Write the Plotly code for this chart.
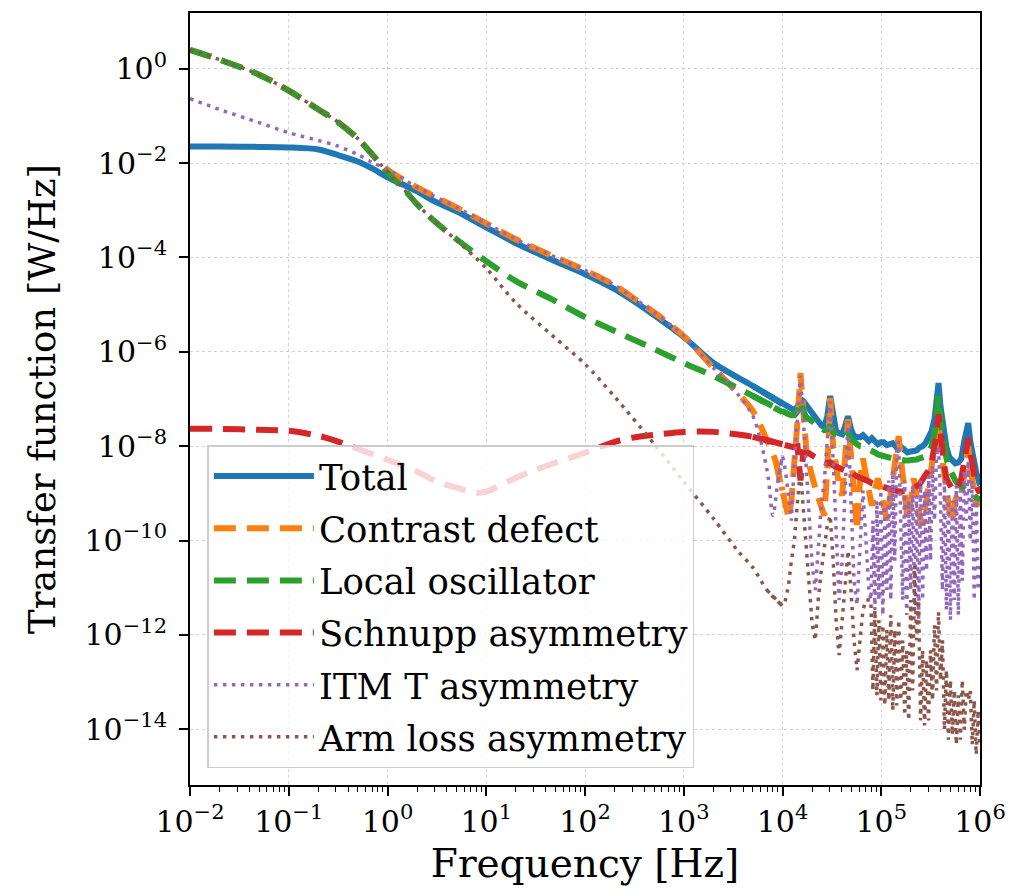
import plotly.graph_objects as go

# ---------------- data ----------------
# high-frequency grid shared by the curves above 10 kHz
freq_hf = [1.00e4, 1.07e4, 1.15e4, 1.23e4, 1.32e4, 1.42e4, 1.52e4, 1.63e4, 1.74e4, 1.87e4,
           2.00e4, 2.15e4, 2.30e4, 2.47e4, 2.65e4, 2.84e4, 3.04e4, 3.26e4, 3.49e4, 3.74e4,
           4.02e4, 4.30e4, 4.61e4, 4.94e4, 5.30e4, 5.69e4, 6.10e4, 6.53e4, 7.00e4, 7.50e4,
           8.04e4, 8.63e4, 9.25e4, 9.91e4, 1.06e5, 1.14e5, 1.22e5, 1.31e5, 1.40e5, 1.50e5,
           1.61e5, 1.73e5, 1.85e5, 1.99e5, 2.13e5, 2.28e5, 2.44e5, 2.62e5, 2.81e5, 3.01e5,
           3.23e5, 3.46e5, 3.62e5, 3.80e5, 3.98e5, 4.27e5, 4.57e5, 4.90e5, 5.25e5, 5.62e5,
           6.04e5, 6.47e5, 6.93e5, 7.26e5, 7.60e5, 7.96e5, 8.55e5, 9.16e5, 1.00e6]

# denser grid used by the two fast-oscillating asymmetry curves above ~78 kHz
freq_dense = [7.86e4, 8.23e4, 8.62e4, 9.03e4, 9.46e4, 9.91e4, 1.038e5, 1.087e5, 1.138e5, 1.192e5,
              1.249e5, 1.308e5, 1.370e5, 1.435e5, 1.503e5, 1.575e5, 1.649e5, 1.728e5, 1.809e5, 1.896e5,
              1.986e5, 2.080e5, 2.178e5, 2.281e5, 2.390e5, 2.503e5, 2.622e5, 2.746e5, 2.876e5, 3.013e5,
              3.155e5, 3.305e5, 3.462e5, 3.626e5, 3.798e5, 3.978e5, 4.166e5, 4.364e5, 4.571e5, 4.788e5,
              5.015e5, 5.253e5, 5.502e5, 5.763e5, 6.036e5, 6.322e5, 6.622e5, 6.936e5, 7.265e5, 7.609e5,
              7.970e5, 8.348e5, 8.744e5, 9.159e5, 9.592e5, 1.0e6]

# Total
total_freq_low = [1e-2, 2e-2, 5e-2, 1e-1, 2e-1, 3e-1, 5e-1, 7e-1, 1, 2, 3, 5, 10, 20, 50, 100, 200, 300,
                  500, 1e3, 2e3, 5e3]
total_low = [2.24e-2, 2.24e-2, 2.2e-2, 2.14e-2, 1.94e-2, 1.52e-2, 1.08e-2, 7.7e-3, 4.99e-3, 2.51e-3,
             1.54e-3, 9.5e-4, 4.35e-4, 2.0e-4, 8.3e-5, 4.41e-5, 2.13e-5, 1.25e-5, 6.0e-6, 2.06e-6,
             5.8e-7, 1.89e-7]
total_hf = [7.73e-8, 7.01e-8, 6.36e-8, 6.06e-8, 5.77e-8, 7.01e-8, 1.0e-7, 8.94e-8, 7.36e-8, 6.06e-8,
            4.99e-8, 4.11e-8, 3.38e-8, 2.78e-8, 2.52e-8, 4.31e-8, 1.16e-7, 3.73e-8, 2.07e-8, 1.88e-8,
            1.79e-8, 2.65e-8, 4.31e-8, 2.29e-8, 1.63e-8, 1.55e-8, 1.55e-8, 1.71e-8, 1.41e-8, 1.28e-8,
            1.48e-8, 1.28e-8, 1.10e-8, 1.21e-8, 1.21e-8, 1.05e-8, 1.10e-8, 1.16e-8, 9.86e-9, 8.52e-9,
            9.39e-9, 8.11e-9, 7.36e-9, 7.73e-9, 8.11e-9, 8.11e-9, 9.39e-9, 1.0e-8, 1.16e-8, 1.48e-8,
            2.07e-8, 3.73e-8, 7.01e-8, 2.18e-7, 7.01e-8, 2.29e-8, 9.39e-9, 5.77e-9, 4.75e-9, 4.31e-9,
            4.53e-9, 5.50e-9, 1.28e-8, 2.29e-8, 3.07e-8, 1.28e-8, 4.99e-9, 2.78e-9, 1.48e-9]

# Contrast defect
contrast_freq_low = [1e-2, 2e-2, 5e-2, 1e-1, 2e-1, 3e-1, 5e-1, 7e-1, 1, 2, 5, 10, 20, 50, 100, 200, 300,
                     500, 1e3, 2e3, 3e3, 5e3, 7e3, 8.5e3]
contrast_low = [2.52, 1.55, 0.747, 0.343, 0.136, 7.96e-2, 3.31e-2, 1.52e-2, 7.3e-3, 3.05e-3, 1.15e-3,
                5.28e-4, 2.43e-4, 1.01e-4, 5.36e-5, 2.58e-5, 1.44e-5, 6.9e-6, 2.16e-6, 4.55e-7, 1.89e-7,
                5.6e-8, 1.3e-8, 4.9e-9]
contrast_hf = [1.16e-9, 5.50e-10, 3.07e-10, 7.01e-10, 3.91e-9, 3.38e-8, 3.55e-7, 3.38e-8, 8.94e-9, 3.91e-9,
               2.07e-9, 1.28e-9, 8.11e-10, 5.50e-10, 3.38e-10, 3.07e-9, 1.05e-7, 1.0e-8, 3.07e-9, 1.48e-9,
               8.94e-10, 4.99e-9, 3.73e-8, 6.36e-9, 1.16e-9, 1.63e-10, 1.88e-9, 5.50e-9, 2.40e-9, 1.05e-9,
               5.50e-10, 1.16e-9, 2.07e-9, 1.16e-9, 5.50e-10, 2.65e-10, 7.01e-10, 2.07e-9, 6.36e-9, 1.63e-8,
               3.91e-9, 8.94e-10, 2.65e-10, 7.01e-10, 2.07e-9, 8.94e-10, 3.38e-10, 2.07e-10, 5.50e-10, 1.48e-9,
               3.07e-9, 6.36e-9, 1.28e-8, 3.38e-8, 1.0e-8, 3.07e-9, 1.16e-9, 4.31e-10, 2.40e-10, 7.01e-10,
               1.16e-9, 1.05e-9, 2.40e-9, 4.99e-9, 1.0e-8, 3.91e-9, 1.16e-9, 5.50e-10, 7.01e-10]

# Local oscillator
lo_freq_low = [1e-2, 2e-2, 5e-2, 1e-1, 2e-1, 3e-1, 5e-1, 7e-1, 1, 1.5, 2, 3, 5, 10, 20, 50, 100, 200,
               500, 1e3, 2e3, 5e3]
lo_low = [2.52, 1.55, 0.747, 0.343, 0.136, 7.96e-2, 3.31e-2, 1.52e-2, 6.33e-3, 2.64e-3, 1.33e-3, 5.82e-4,
          2.43e-4, 8.3e-5, 3.14e-5, 1.19e-5, 5.44e-6, 2.75e-6, 1.15e-6, 5.8e-7, 3.08e-7, 1.16e-7]
lo_hf = [5.24e-8, 4.99e-8, 4.75e-8, 4.53e-8, 4.53e-8, 5.50e-8, 8.94e-8, 5.50e-8, 4.11e-8, 3.73e-8,
         3.38e-8, 3.07e-8, 2.65e-8, 2.40e-8, 2.18e-8, 2.29e-8, 2.78e-8, 1.98e-8, 1.71e-8, 1.55e-8,
         1.48e-8, 1.63e-8, 1.88e-8, 1.41e-8, 1.21e-8, 1.10e-8, 1.0e-8, 9.86e-9, 8.94e-9, 8.52e-9,
         8.11e-9, 7.36e-9, 6.68e-9, 6.36e-9, 6.06e-9, 5.77e-9, 5.50e-9, 5.50e-9, 5.24e-9, 5.24e-9,
         4.99e-9, 4.99e-9, 4.99e-9, 4.99e-9, 5.24e-9, 5.24e-9, 5.50e-9, 5.77e-9, 6.06e-9, 7.36e-9,
         9.86e-9, 1.88e-8, 3.73e-8, 1.16e-7, 3.38e-8, 1.0e-8, 5.50e-9, 3.38e-9, 2.40e-9, 1.88e-9,
         1.55e-9, 1.34e-9, 1.21e-9, 1.16e-9, 1.10e-9, 1.0e-9, 8.94e-10, 8.11e-10, 7.36e-10]

# Schnupp asymmetry
schnupp_freq_low = [1e-2, 2e-2, 5e-2, 1e-1, 2e-1, 3e-1, 5e-1, 1, 2, 3, 5, 8, 10, 20, 30, 50, 100, 200,
                    300, 500, 1e3, 2e3, 5e3]
schnupp_low = [2.33e-8, 2.33e-8, 2.22e-8, 2.12e-8, 1.66e-8, 1.30e-8, 8.8e-9, 5.15e-9, 2.88e-9, 1.86e-9,
               1.32e-9, 1.03e-9, 1.09e-9, 2.15e-9, 3.02e-9, 4.46e-9, 7.25e-9, 1.24e-8, 1.51e-8, 1.74e-8,
               2.01e-8, 2.01e-8, 1.58e-8]
schnupp_hf = [1.10e-8, 1.05e-8, 1.0e-8, 9.86e-9, 9.39e-9, 9.86e-9, 1.88e-9, 7.36e-9, 7.36e-9, 7.01e-9,
              6.36e-9, 5.77e-9, 5.24e-9, 4.99e-9, 4.53e-9, 4.31e-9, 4.53e-9, 3.91e-9, 3.73e-9, 3.55e-9,
              3.38e-9, 3.07e-9, 3.22e-9, 2.78e-9, 2.52e-9, 2.29e-9, 2.18e-9, 1.98e-9, 1.88e-9, 1.79e-9,
              1.63e-9, 1.55e-9, 1.48e-9, 1.41e-9, 1.34e-9, 1.28e-9, 1.21e-9, 1.16e-9, 1.10e-9, 1.10e-9,
              1.10e-9, 1.10e-9, 1.16e-9, 1.21e-9, 1.28e-9, 1.41e-9, 1.55e-9, 1.88e-9, 2.29e-9, 3.07e-9,
              4.53e-9, 8.94e-9, 1.63e-8, 4.75e-8, 1.63e-8, 4.99e-9, 2.07e-9, 1.48e-9, 1.21e-9, 1.16e-9,
              1.41e-9, 2.07e-9, 4.53e-9, 8.11e-9, 1.48e-8, 7.36e-9, 2.40e-9, 1.41e-9, 1.0e-9]

# ITM T asymmetry
itm_freq_low = [1e-2, 2e-2, 5e-2, 1e-1, 2e-1, 3e-1, 5e-1, 7e-1, 1, 2, 5, 10, 20, 50, 100, 200, 300, 500,
                1e3, 2e3, 3e3, 5e3, 7e3, 8e3, 9e3]
itm_low = [0.232, 0.136, 7.2e-2, 4.4e-2, 3.0e-2, 2.36e-2, 1.52e-2, 1.03e-2, 7.3e-3, 3.05e-3, 1.15e-3,
           5.28e-4, 2.43e-4, 1.01e-4, 5.36e-5, 2.58e-5, 1.44e-5, 6.9e-6, 2.16e-6, 4.55e-7, 1.89e-7,
           4.4e-8, 3.0e-9, 3.4e-10, 1.86e-9]
itm_mid = [6.36e-9, 3.07e-9, 7.01e-10, 2.65e-10, 4.99e-9, 5.50e-8, 3.07e-7, 3.38e-8, 3.07e-9, 2.65e-10,
           2.92e-11, 8.94e-12, 6.06e-11, 5.50e-10, 1.88e-9, 1.28e-8, 8.94e-8, 4.99e-9, 1.63e-10, 5.50e-12,
           3.73e-11, 1.88e-9, 3.38e-8, 7.01e-10, 1.41e-11, 4.31e-12, 1.0e-10, 1.16e-9, 1.0e-10, 8.94e-12]
itm_dense = [5.50e-12, 2.65e-10, 3.38e-12, 7.01e-10, 5.50e-12, 1.16e-9, 2.65e-12, 5.50e-10, 8.94e-12, 1.88e-9,
             5.50e-12, 3.07e-9, 3.73e-11, 8.11e-9, 1.28e-8, 2.65e-10, 5.50e-12, 1.88e-9, 2.65e-12, 7.01e-10,
             8.94e-12, 1.48e-9, 3.38e-12, 8.94e-10, 2.07e-12, 1.88e-9, 5.50e-12, 1.16e-9, 2.29e-11, 2.40e-9,
             3.73e-11, 3.91e-9, 2.65e-10, 6.36e-9, 1.0e-8, 7.01e-10, 8.94e-12, 1.88e-9, 3.38e-12, 8.94e-10,
             2.07e-12, 7.01e-10, 5.50e-12, 1.48e-9, 2.65e-12, 1.16e-9, 1.41e-11, 3.07e-9, 2.65e-10, 4.99e-9,
             1.0e-10, 1.88e-9, 5.50e-12, 7.01e-10, 8.94e-12, 3.73e-11]

# Arm loss asymmetry
arm_freq_low = [1e-2, 2e-2, 5e-2, 1e-1, 2e-1, 3e-1, 5e-1, 7e-1, 1, 1.5, 2, 3, 5, 10, 20, 50, 100, 200,
                500, 1e3, 2e3, 3.5e3, 5e3, 7e3]
arm_low = [2.52, 1.55, 0.747, 0.343, 0.136, 7.96e-2, 3.31e-2, 1.52e-2, 6.33e-3, 2.64e-3, 1.33e-3, 5.82e-4,
           2.31e-4, 5.9e-5, 1.08e-5, 1.96e-6, 5.5e-7, 1.11e-7, 1.12e-8, 1.77e-9, 2.92e-10, 6.15e-11,
           2.69e-11, 8.8e-12]
arm_mid = [4.11e-12, 5.50e-12, 1.10e-11, 3.73e-11, 1.0e-10, 7.01e-10, 3.07e-9, 4.31e-10, 6.06e-11, 8.94e-12,
           1.63e-12, 7.73e-13, 5.50e-12, 2.29e-11, 7.73e-11, 2.07e-10, 3.38e-10, 3.73e-11, 2.07e-12, 3.73e-13,
           2.07e-12, 1.41e-11, 6.06e-11, 8.94e-12, 7.73e-13, 1.79e-13, 7.73e-13, 3.38e-12, 5.50e-12, 5.50e-12]
arm_dense = [5.50e-12, 6.68e-14, 3.38e-12, 5.24e-14, 2.07e-12, 4.11e-14, 1.63e-12, 3.22e-14, 1.28e-12, 4.11e-14,
             2.65e-12, 2.52e-14, 1.28e-12, 3.22e-14, 2.07e-12, 4.11e-14, 7.73e-13, 1.98e-14, 4.75e-13, 1.55e-14,
             5.50e-12, 6.68e-14, 2.92e-11, 7.73e-13, 5.50e-12, 1.55e-14, 4.75e-13, 1.21e-14, 2.92e-13, 1.55e-14,
             4.75e-13, 4.11e-14, 1.63e-12, 6.68e-14, 3.07e-12, 1.10e-13, 7.73e-13, 9.86e-15, 1.79e-13, 6.06e-15,
             1.10e-13, 7.73e-15, 6.68e-14, 4.75e-15, 5.24e-14, 6.06e-15, 1.10e-13, 9.86e-15, 6.68e-14, 4.11e-14,
             6.68e-14, 4.75e-15, 4.11e-14, 2.92e-15, 2.52e-14, 4.75e-15]

series_names = ["Total", "Contrast defect", "Local oscillator", "Schnupp asymmetry",
                "ITM T asymmetry", "Arm loss asymmetry"]
x_ticks = [1e-2, 1e-1, 1e0, 1e1, 1e2, 1e3, 1e4, 1e5, 1e6]
x_tick_labels = ["10<sup>−2</sup>", "10<sup>−1</sup>", "10<sup>0</sup>", "10<sup>1</sup>", "10<sup>2</sup>",
                 "10<sup>3</sup>", "10<sup>4</sup>", "10<sup>5</sup>", "10<sup>6</sup>"]
y_ticks = [1e0, 1e-2, 1e-4, 1e-6, 1e-8, 1e-10, 1e-12, 1e-14]
y_tick_labels = ["10<sup>0</sup>", "10<sup>−2</sup>", "10<sup>−4</sup>", "10<sup>−6</sup>",
                 "10<sup>−8</sup>", "10<sup>−10</sup>", "10<sup>−12</sup>", "10<sup>−14</sup>"]

# ---------------- figure ----------------
n_mid = len(itm_mid)
# (smooth low-frequency part, resonant high-frequency part)
traces = [
    (total_freq_low, total_low, freq_hf, total_hf, "#1f77b4", "solid", 6),
    (contrast_freq_low, contrast_low, freq_hf, contrast_hf, "#ff7f0e", "22px,11px", 6),
    (lo_freq_low, lo_low, freq_hf, lo_hf, "#2ca02c", "22px,11px", 6),
    (schnupp_freq_low, schnupp_low, freq_hf, schnupp_hf, "#d62728", "22px,11px", 6),
    (itm_freq_low, itm_low, freq_hf[:n_mid] + freq_dense, itm_mid + itm_dense, "#9467bd", "3.5px,5.5px", 3.5),
    (arm_freq_low, arm_low, freq_hf[:n_mid] + freq_dense, arm_mid + arm_dense, "#8c564b", "3.5px,5.5px", 3.5),
]

FONT = "DejaVu Serif, Liberation Serif, serif"

fig = go.Figure()
for name, (fl, vl, fh, vh, color, dash, width) in zip(series_names, traces):
    line = dict(color=color, dash=dash, width=width)
    fig.add_trace(go.Scatter(x=fl + fh[:1], y=vl + vh[:1], mode="lines", name=name, legendgroup=name,
                             line=dict(line, shape="spline", smoothing=0.8)))
    fig.add_trace(go.Scatter(x=fl[-1:] + fh, y=vl[-1:] + vh, mode="lines", name=name, legendgroup=name,
                             showlegend=False, line=dict(line, shape="linear")))

axis_common = dict(
    type="log", showline=True, linecolor="black", linewidth=2, mirror=True,
    ticks="outside", ticklen=9, tickwidth=1.5, tickcolor="black",
    showgrid=True, gridcolor="#d3d3d3", griddash="dot", gridwidth=1,
    zeroline=False, tickfont=dict(family=FONT, size=30, color="black"),
)

fig.update_xaxes(**axis_common, range=[-2, 6], tickmode="array", tickvals=x_ticks, ticktext=x_tick_labels,
                 minor=dict(ticks="outside", ticklen=5, tickwidth=1, tickcolor="black", dtick="D1", showgrid=False),
                 title=dict(text="Frequency [Hz]", font=dict(family=FONT, size=39, color="black"), standoff=12))
fig.update_yaxes(**axis_common, range=[-15.18, 1.18], tickmode="array", tickvals=y_ticks, ticktext=y_tick_labels,
                 ticklabelstandoff=6,
                 title=dict(text="Transfer function [W/Hz]", font=dict(family=FONT, size=37, color="black"),
                            standoff=18))

fig.update_layout(
    width=1017, height=895,
    margin=dict(l=190, r=32, t=11, b=110),
    paper_bgcolor="white", plot_bgcolor="white",
    font=dict(family=FONT, color="black"),
    showlegend=True,
    legend=dict(x=0.022, y=0.022, xanchor="left", yanchor="bottom",
                bgcolor="rgba(255,255,255,0.8)", bordercolor="#cccccc", borderwidth=1.5,
                font=dict(family=FONT, size=35.5, color="black"), tracegroupgap=3, itemwidth=100),
)

fig.write_html("out.html")
